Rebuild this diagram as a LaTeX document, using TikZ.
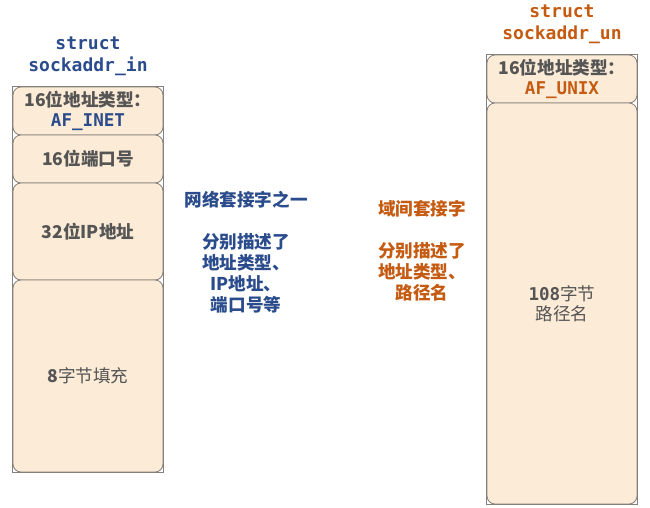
\documentclass[tikz,border=0pt]{standalone}
\usepackage{fontspec}
\setmainfont{Noto Sans CJK SC}
\setmonofont{DejaVu Sans Mono}
\definecolor{cellfill}{HTML}{FCEBD7}
\definecolor{cellline}{HTML}{86807A}
\definecolor{cellgray}{HTML}{555555}
\definecolor{inblue}{HTML}{2B4C8C}
\definecolor{unorange}{HTML}{C55A11}
\newcommand{\mono}{\ttfamily\bfseries}
\tikzset{
  cell/.style={draw=cellline, fill=cellfill, line width=0.8pt, rounded corners=8pt,
    minimum width=150pt, inner sep=0pt, align=center, text=cellgray,
    font=\fontsize{17.6}{19.5}\selectfont\bfseries},
  outerbox/.style={draw=cellline, line width=0.8pt},
  title/.style={align=center, font=\fontsize{18}{22}\selectfont\mono},
  note/.style={align=center, font=\fontsize{17.6}{21}\selectfont\bfseries}
}
\begin{document}
\begin{tikzpicture}[x=1pt,y=-1pt]
        \useasboundingbox (0,0) rectangle (650,507);

        \node[title, text=inblue] (inTitle) at (88, 56) {struct\\sockaddr\_in};
        \node[title, text=unorange] (unTitle) at (562, 24) {struct\\sockaddr\_un};

        \node[cell, minimum height=48pt] (inFamily) at (88, 111) {16位地址类型：\\{\mono\color{inblue}AF\_INET}};
        \node[cell, minimum height=48pt] (inPort) at (88, 159) {16位端口号};
        \node[cell, minimum height=97pt] (inAddr) at (88, 231.5) {32位IP地址};
        \node[cell, minimum height=192pt] (inZero) at (88, 376) {8{\mdseries 字节填充}};
        \draw[outerbox] (inFamily.north west) rectangle (inZero.south east);

        \node[cell, minimum height=48pt] (unFamily) at (562, 79) {16位地址类型：\\{\mono\color{unorange}AF\_UNIX}};
        \node[cell, minimum height=401pt] (unPath) at (562, 303.5) {{\mono 108}{\mdseries 字节}\\{\mdseries 路径名}};
        \draw[outerbox] (unFamily.north west) rectangle (unPath.south east);

        \node[note, text=inblue] (inNote) at (246, 252) {网络套接字之一\\ \\分别描述了\\地址类型、\\IP地址、\\端口号等};
        \node[note, text=unorange] (unNote) at (422, 251) {域间套接字\\ \\分别描述了\\地址类型、\\路径名};

    \end{tikzpicture}
\end{document}
